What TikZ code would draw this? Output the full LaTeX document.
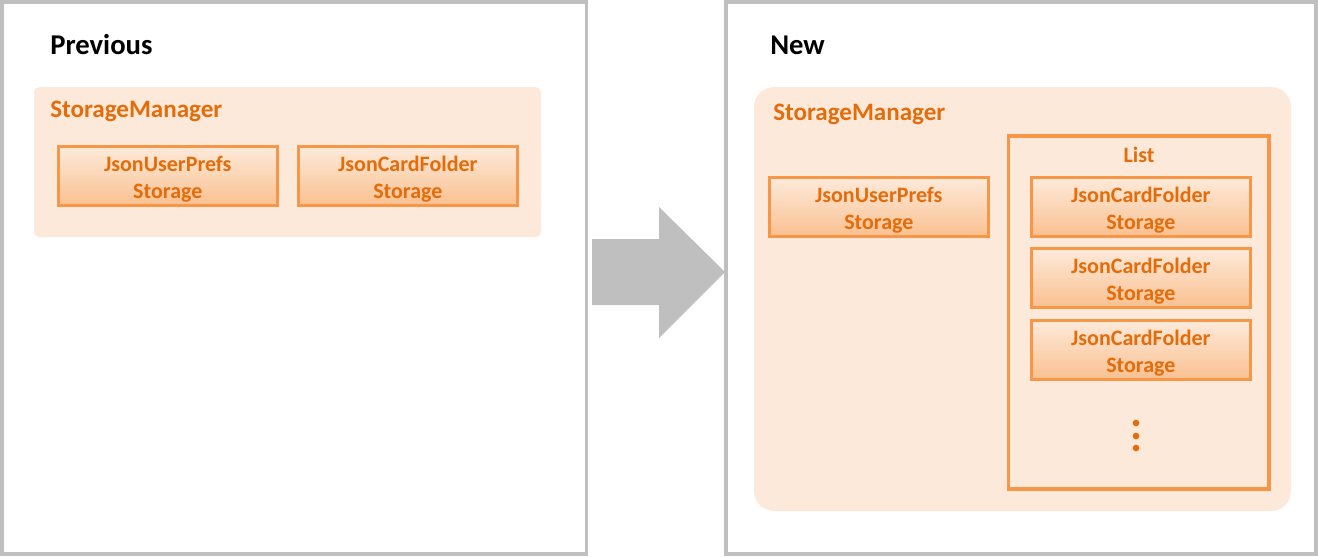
\documentclass[tikz,border=0pt]{standalone}
\usepackage{fontspec}
\setmainfont{Carlito}
\definecolor{framegray}{HTML}{BFBFBF}
\definecolor{peach}{HTML}{FDE9D9}
\definecolor{orangeborder}{HTML}{F79646}
\definecolor{orangetext}{HTML}{E46C0A}
\definecolor{gradtop}{HTML}{FDEADA}
\definecolor{gradbot}{HTML}{FAC090}
\newcommand{\lowline}[1]{\raisebox{-2.2pt}[\height][\depth]{#1}}
\tikzset{
  frame/.style={draw=framegray, line width=2.3pt, fill=white},
  mgr/.style={fill=peach, draw=none},
  comp/.style={draw=orangeborder, line width=2.2pt, top color=gradtop, bottom color=gradbot,
    text=orangetext, font=\fontsize{16.5}{20.3}\selectfont\bfseries, align=center,
    minimum width=164pt, minimum height=44.5pt, inner sep=0pt, anchor=north west},
  title/.style={font=\fontsize{21.5}{25}\selectfont\bfseries, anchor=west, inner sep=0pt},
  mgrlabel/.style={font=\fontsize{18.8}{22}\selectfont\bfseries, text=orangetext, anchor=west, inner sep=0pt},
  listlabel/.style={font=\fontsize{16.5}{20}\selectfont\bfseries, text=orangetext, inner sep=0pt},
  listbox/.style={draw=orangeborder, line width=2.3pt},
  bigarrow/.style={fill=framegray, draw=none},
  dot/.style={circle, fill=orangetext, minimum size=5pt, inner sep=0pt},
}
\begin{document}
\begin{tikzpicture}[x=0.75pt,y=-0.75pt]
\useasboundingbox (0,0) rectangle (1318,557);
% frames
\draw[frame] (2,2) rectangle (586.5,554);
\draw[frame] (726,2) rectangle (1316,554);
% arrow
\fill[bigarrow] (592,239) -- (659,239) -- (659,207) -- (725,272) -- (659,338) -- (659,305) -- (592,305) -- cycle;
% titles
\node[title] (prev) at (50,45) {Previous};
\node[title] (new) at (770,45.5) {New};
% left manager
\fill[mgr, rounded corners=4pt] (34,87) rectangle (541,237);
\node[mgrlabel] (lmgr) at (50,111) {StorageManager};
\node[comp] (lprefs) at (57,145) {\lowline{JsonUserPrefs}\\\lowline{Storage}};
\node[comp] (lcard) at (297,145) {\lowline{JsonCardFolder}\\\lowline{Storage}};
% right manager
\fill[mgr, rounded corners=15pt] (754,87) rectangle (1291,511);
\node[mgrlabel] (rmgr) at (773,114) {StorageManager};
\node[comp] (rprefs) at (768,176) {\lowline{JsonUserPrefs}\\\lowline{Storage}};
\draw[listbox] (1008.5,136) rectangle (1269,489);
\node[listlabel] (list) at (1139,155) {List};
\node[comp] (card1) at (1030,176) {\lowline{JsonCardFolder}\\\lowline{Storage}};
\node[comp] (card2) at (1030,247) {\lowline{JsonCardFolder}\\\lowline{Storage}};
\node[comp] (card3) at (1030,319) {\lowline{JsonCardFolder}\\\lowline{Storage}};
\node[dot] (d1) at (1136,423) {};
\node[dot] (d2) at (1136,436) {};
\node[dot] (d3) at (1136,448) {};
\end{tikzpicture}
\end{document}
